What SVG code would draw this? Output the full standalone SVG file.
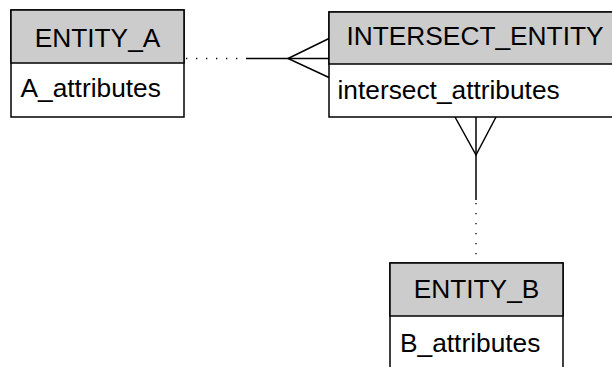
<svg xmlns="http://www.w3.org/2000/svg" width="612" height="367" viewBox="0 0 612 367">
<style>
.box{fill:#ffffff;stroke:#000;stroke-width:1.5}
.hdr{fill:#cccccc;stroke:#000;stroke-width:1.5}
.t{font-family:"Liberation Sans",Arial,sans-serif;font-size:26.3px;fill:#000}
.c{text-anchor:middle}
.ln{stroke:#000;stroke-width:1.5;fill:none}
.dot{stroke:#000;stroke-width:1.3;fill:none;stroke-dasharray:1.3 8.7}
</style>
<rect width="612" height="367" fill="#fff"/>
<g id="connectors">
<line class="dot" x1="186" y1="58.5" x2="247" y2="58.5"/>
<line class="ln" x1="247" y1="58.5" x2="329" y2="58.5"/>
<polyline class="ln" points="329,38.5 288,58.5 329,77.5"/>
<line class="ln" x1="476" y1="117" x2="476" y2="200"/>
<polyline class="ln" points="455,117 476,155 496,117"/>
<line class="dot" x1="476" y1="203" x2="476" y2="263"/>
</g>
<g id="entity_a">
<rect class="box" x="11" y="10" width="173" height="107"/>
<rect class="hdr" x="11" y="10" width="173" height="53"/>
<text class="t c" x="97.5" y="46.5">ENTITY_A</text>
<text class="t" x="20.5" y="96.5">A_attributes</text>
</g>
<g id="intersect_entity">
<rect class="box" x="329" y="12" width="292" height="105"/>
<rect class="hdr" x="329" y="12" width="292" height="52"/>
<text class="t c" x="475" y="45">INTERSECT_ENTITY</text>
<text class="t" x="337.5" y="99">intersect_attributes</text>
</g>
<g id="entity_b">
<rect class="box" x="390" y="263" width="173" height="120"/>
<rect class="hdr" x="390" y="263" width="173" height="53"/>
<text class="t c" x="476.5" y="297.5">ENTITY_B</text>
<text class="t" x="400" y="351.5">B_attributes</text>
</g>
</svg>
